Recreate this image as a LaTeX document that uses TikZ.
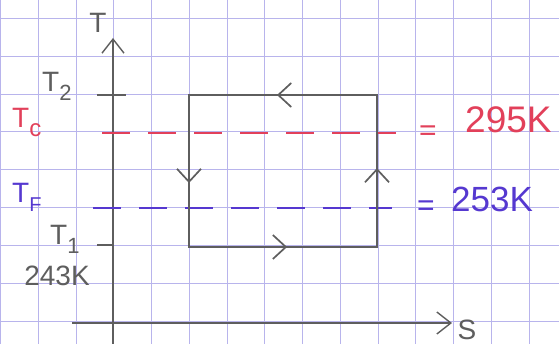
\documentclass[tikz,border=0pt]{standalone}
\usepackage{fontspec}
\setmainfont{Liberation Sans}
\usetikzlibrary{arrows.meta}
\definecolor{pencil}{HTML}{5E5E5E}
\definecolor{redink}{HTML}{E2405A}
\definecolor{blueink}{HTML}{5538D0}
\definecolor{gridc}{HTML}{B8B4EC}
\newcommand{\fs}[1]{\fontsize{#1}{#1}\selectfont}
\newcommand{\tsub}[2]{T\raisebox{-0.32em}{\fs{#2}#1}}
\tikzset{
  axis/.style={draw=pencil,line width=1.4pt},
  cycle/.style={draw=pencil,line width=1.7pt},
  tick/.style={draw=pencil,line width=1.4pt},
  redline/.style={draw=redink,line width=1.7pt,dash pattern=on 28pt off 18pt},
  blueline/.style={draw=blueink,line width=1.7pt,dash pattern=on 28pt off 18pt},
  lbl/.style={inner sep=0pt},
  chev/.style={-{Straight Barb[length=13pt,width=24pt,line width=1.7pt]}},
  axchev/.style={-{Straight Barb[length=14pt,width=22pt,line width=1.4pt]}},
}
\begin{document}
\begin{tikzpicture}[x=1pt,y=-1pt]
\fill[white] (0,0) rectangle (559,344);
\useasboundingbox (0,0) rectangle (559,344);
% graph paper
\foreach \i in {0,...,14} {\draw[gridc,line width=0.8pt] (0.4+37.75*\i,0) -- (0.4+37.75*\i,344);}
\foreach \j in {0,...,8} {\draw[gridc,line width=0.8pt] (0,18.5+37.8*\j) -- (559,18.5+37.8*\j);}
% axes
\coordinate (ybot) at (113,344);
\coordinate (ytop) at (113,38);
\coordinate (xl) at (72,323);
\coordinate (xr) at (452,323);
\draw[axis,axchev] (ybot) -- (ytop);
\draw[axis,axchev] (xl) -- (xr);
\node[lbl,text=pencil,font=\fs{28}] (Tlab) at (98,23) {T};
\node[lbl,text=pencil,font=\fs{28}] (Slab) at (467,330) {S};
% ticks
\coordinate (t2a) at (97,95); \coordinate (t2b) at (126,95);
\coordinate (t1a) at (97,245); \coordinate (t1b) at (113,245);
\draw[tick] (t2a) -- (t2b);
\draw[tick] (t1a) -- (t1b);
\node[lbl,text=pencil,font=\fs{28},anchor=base west] (T2) at (42,92) {\tsub{2}{22}};
\node[lbl,text=pencil,font=\fs{28},anchor=base west] (T1) at (50,245) {\tsub{1}{22}};
\node[lbl,text=pencil,font=\fs{28}] (k243) at (57,276) {243K};
% isotherm lines
\coordinate (ra) at (102,133); \coordinate (rb) at (396,133);
\coordinate (ba) at (93,208); \coordinate (bb) at (392,208);
\draw[redline] (ra) -- (rb);
\draw[blueline] (ba) -- (bb);
\node[lbl,text=redink,font=\fs{28},anchor=base west] (Tc) at (12,128) {\tsub{c}{24}};
\node[lbl,text=blueink,font=\fs{28},anchor=base west] (Tf) at (12,203) {\tsub{F}{20}};
\node[lbl,text=redink,font=\fs{30}] (eq1) at (428,133) {=};
\node[lbl,text=redink,font=\fs{37},anchor=base west] (v295) at (465,133) {295K};
\node[lbl,text=blueink,font=\fs{30}] (eq2) at (426,208) {=};
\node[lbl,text=blueink,font=\fs{35},anchor=base west] (v253) at (451,212) {253K};
% cycle
\coordinate (A) at (189,95);
\coordinate (B) at (377,95);
\coordinate (C) at (377,247);
\coordinate (D) at (189,247);
\draw[cycle] (A) -- (B) -- (C) -- (D) -- cycle;
\path (B) -- coordinate[pos=0.5] (mAB) (A);
\path (A) -- coordinate[pos=0.54] (mAD) (D);
\path (D) -- coordinate[pos=0.49] (mDC) (C);
\path (C) -- coordinate[pos=0.48] (mCB) (B);
\draw[cycle,chev] ([xshift=10pt]mAB) -- ([xshift=-6pt]mAB);
\draw[cycle,chev] ([yshift=10pt]mAD) -- ([yshift=-6pt]mAD);
\draw[cycle,chev] ([xshift=-10pt]mDC) -- ([xshift=6pt]mDC);
\draw[cycle,chev] ([yshift=-10pt]mCB) -- ([yshift=6pt]mCB);
\end{tikzpicture}
\end{document}
